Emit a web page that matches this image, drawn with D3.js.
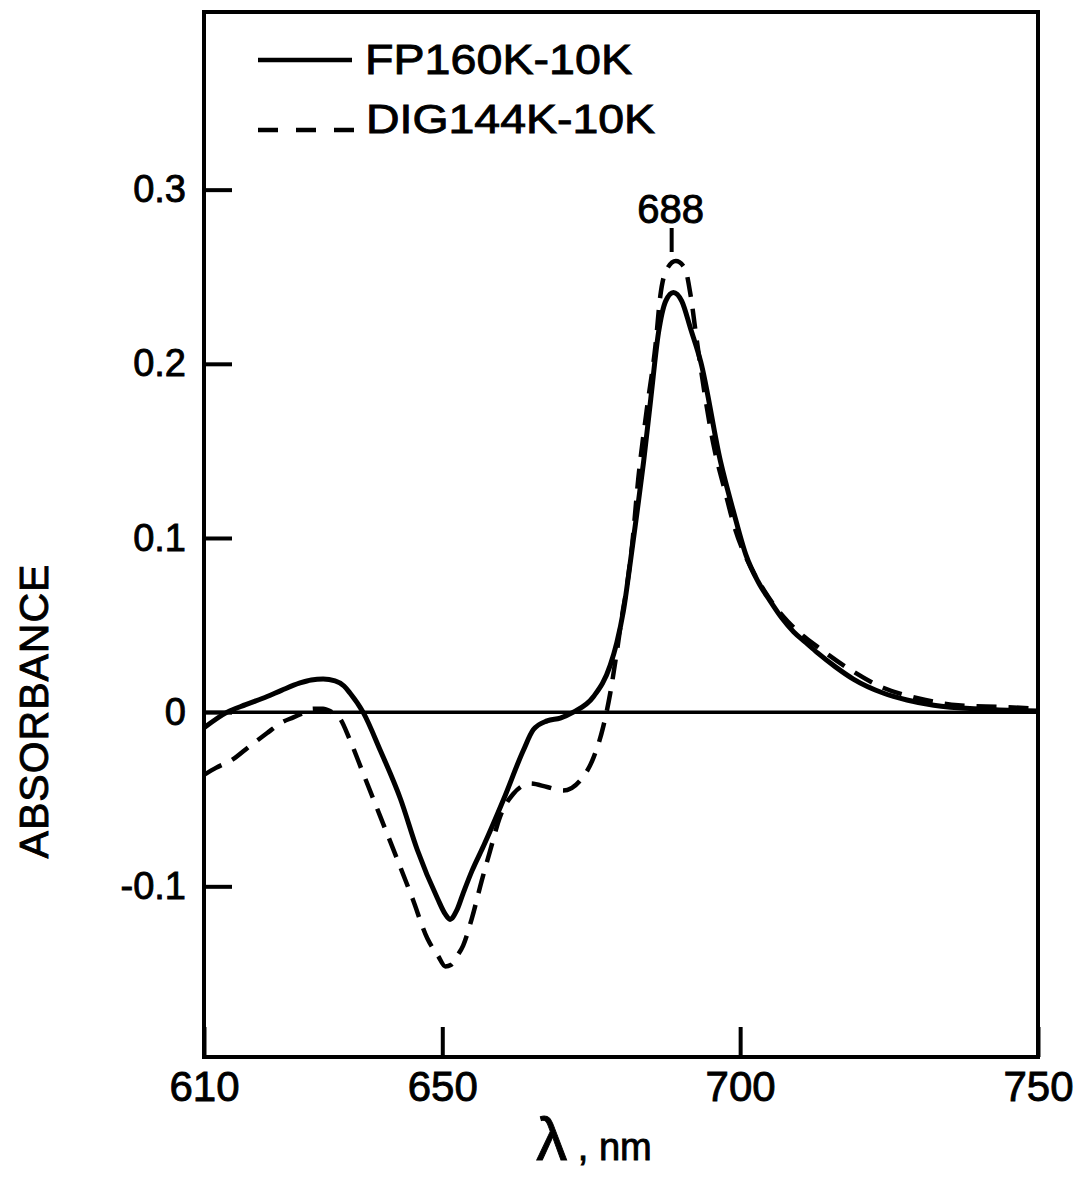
<!DOCTYPE html>
<html>
<head>
<meta charset="utf-8">
<script src="https://cdn.jsdelivr.net/npm/d3@7"></script>
<style>
  body { margin: 0; background: #fff; }
  text { font-family: "Liberation Sans", Arial, sans-serif; fill: #000; stroke: #000; stroke-width: 0.9px; }
</style>
</head>
<body>
<div id="vis"></div>
<script>
// wavelength (nm) / absorbance pairs
const fpWave = [610, 613.9, 617, 620.6, 623, 626, 628, 630, 632, 633.5, 634.5, 636.7, 639.6, 643, 645.8,
  649.2, 650.5, 651.3, 652.4, 653.5, 655, 656.9, 660.3, 663.6, 665.3, 667.6, 669.8, 672, 675.4, 678.2,
  679.3, 680.4, 681.6, 682.7, 683.8, 685, 686.3, 687.5, 688.8, 690.2, 691.7, 693.4, 696.7, 698.9,
  701, 703, 705, 707, 709, 711, 713, 716, 719, 724, 728, 732.5, 741, 750];
const fpAbs = [-0.009, 0, 0.0043, 0.009, 0.0125, 0.0166, 0.0185, 0.019, 0.018, 0.015, 0.011, 0, -0.022, -0.05, -0.079,
  -0.107, -0.116, -0.119, -0.114, -0.104, -0.091, -0.077, -0.05, -0.022, -0.01, -0.005, -0.0034, 0, 0.009, 0.027,
  0.04, 0.058, 0.087, 0.115, 0.144, 0.18, 0.218, 0.236, 0.241, 0.236, 0.22, 0.201, 0.144, 0.115,
  0.09, 0.075, 0.064, 0.054, 0.046, 0.04, 0.034, 0.026, 0.019, 0.011, 0.007, 0.004, 0.0017, 0.0006];

const digWave = [610, 612, 614.9, 617.5, 620.6, 623, 625, 627, 628.3, 630, 631.2, 632.9, 634.5, 636.7, 639.6,
  642.5, 645, 647.5, 649.3, 650.5, 651.5, 652.5, 653.5, 655, 656.6, 658, 659.7, 661.9, 664.8, 667.6,
  670.3, 673.2, 675.4, 677, 678.2, 679.4, 680.3, 680.8, 681.9, 682.9, 684.3, 685.8, 686.6, 687.5,
  689.2, 690.7, 691.7, 692.7, 695.5, 697.6, 698.9, 701.8, 704, 706, 708, 710.5, 713.2, 718.2, 724, 729.8,
  736.6, 743.8, 750];
const digAbs = [-0.036, -0.032, -0.027, -0.02, -0.012, -0.006, -0.003, 0, 0.002, 0.002, 0.0005, -0.004, -0.016, -0.035, -0.06,
  -0.085, -0.107, -0.13, -0.14, -0.146, -0.145, -0.14, -0.134, -0.118, -0.097, -0.08, -0.06, -0.047, -0.041, -0.043,
  -0.045, -0.039, -0.026, -0.0086, 0.011, 0.037, 0.058, 0.068, 0.097, 0.134, 0.173, 0.211, 0.239, 0.253,
  0.259, 0.255, 0.239, 0.214, 0.154, 0.125, 0.108, 0.083, 0.07, 0.06, 0.052, 0.044, 0.037, 0.025, 0.014, 0.008,
  0.004, 0.003, 0.002];

const xTicks = [610, 650, 700, 750];
const xTickLabels = ["610", "650", "700", "750"];
const yTicks = [0.3, 0.2, 0.1, 0, -0.1];
const yTickLabels = ["0.3", "0.2", "0.1", "0", "-0.1"];
const seriesNames = ["FP160K-10K", "DIG144K-10K"];
const peakLabel = 688;

const W = 1076, H = 1179;
const svg = d3.select("#vis").append("svg")
  .attr("width", W)
  .attr("height", H);

const x = d3.scaleLinear().domain([610, 750]).range([204, 1038]);
const y = d3.scaleLinear().domain([-0.198, 0.402]).range([1057, 12]);

const fp = fpWave.map((w, i) => [w, fpAbs[i]]);
const dig = digWave.map((w, i) => [w, digAbs[i]]);

const line = d3.line()
  .x(d => x(d[0]))
  .y(d => y(d[1]))
  .curve(d3.curveMonotoneX);

// zero line
svg.append("line")
  .attr("x1", x(610)).attr("x2", x(750))
  .attr("y1", y(0)).attr("y2", y(0))
  .attr("stroke", "#000")
  .attr("stroke-width", 3.5);

// curves
svg.append("path")
  .datum(fp)
  .attr("d", line)
  .attr("fill", "none")
  .attr("stroke", "#000")
  .attr("stroke-width", 5)
  .attr("stroke-linejoin", "round");

svg.append("path")
  .datum(dig)
  .attr("d", line)
  .attr("fill", "none")
  .attr("stroke", "#000")
  .attr("stroke-width", 4.5)
  .attr("stroke-dasharray", "20,12");

// AXES
const yAxis = svg.append("g")
  .attr("transform", `translate(${x(610)},0)`)
  .call(d3.axisLeft(y)
    .tickValues(yTicks)
    .tickSize(-28)
    .tickPadding(18)
    .tickFormat((d, i) => yTickLabels[i]));

const xAxis = svg.append("g")
  .attr("transform", `translate(0,${y.range()[0]})`)
  .call(d3.axisBottom(x)
    .tickValues(xTicks)
    .tickSize(-30)
    .tickPadding(14)
    .tickFormat((d, i) => xTickLabels[i]));

[yAxis, xAxis].forEach(g => {
  g.select(".domain").remove();
  g.selectAll(".tick line").attr("stroke", "#000").attr("stroke-width", 4);
  g.selectAll(".tick text").attr("fill", "#000").attr("font-family", "Liberation Sans, Arial, sans-serif");
});
yAxis.selectAll(".tick text").attr("font-size", 38);
xAxis.selectAll(".tick text").attr("font-size", 42).attr("dy", "0.72em");

// frame
svg.append("rect")
  .attr("x", x(610)).attr("y", y.range()[1])
  .attr("width", x(750) - x(610))
  .attr("height", y.range()[0] - y.range()[1])
  .attr("fill", "none")
  .attr("stroke", "#000")
  .attr("stroke-width", 4);

// axis titles
svg.append("text")
  .attr("transform", `translate(48, 711) rotate(-90)`)
  .attr("text-anchor", "middle")
  .attr("font-size", 41)
  .attr("letter-spacing", 1)
  .text("ABSORBANCE");

const xt = svg.append("text")
  .attr("x", 594)
  .attr("y", 1160)
  .attr("text-anchor", "middle");
xt.append("tspan").attr("font-size", 62).text("λ");
xt.append("tspan").attr("font-size", 38).text(" , nm");

// peak label
svg.append("text")
  .attr("x", x(peakLabel) + 2)
  .attr("y", 223)
  .attr("text-anchor", "middle")
  .attr("font-size", 40)
  .text(String(peakLabel));
svg.append("line")
  .attr("x1", x(peakLabel) + 3).attr("x2", x(peakLabel) + 3)
  .attr("y1", 228).attr("y2", 252)
  .attr("stroke", "#000")
  .attr("stroke-width", 4);

// LEGEND
const legend = svg.append("g");
legend.append("line")
  .attr("x1", 258).attr("x2", 352)
  .attr("y1", 60).attr("y2", 60)
  .attr("stroke", "#000").attr("stroke-width", 4.5);
legend.append("line")
  .attr("x1", 258).attr("x2", 354)
  .attr("y1", 130).attr("y2", 130)
  .attr("stroke", "#000").attr("stroke-width", 4.5)
  .attr("stroke-dasharray", "20,18");
legend.append("text")
  .attr("x", 365).attr("y", 74)
  .attr("font-size", 43)
  .attr("textLength", 267)
  .attr("lengthAdjust", "spacingAndGlyphs")
  .text(seriesNames[0]);
legend.append("text")
  .attr("x", 366).attr("y", 133)
  .attr("font-size", 40)
  .attr("textLength", 289)
  .attr("lengthAdjust", "spacingAndGlyphs")
  .text(seriesNames[1]);
</script>
</body>
</html>
